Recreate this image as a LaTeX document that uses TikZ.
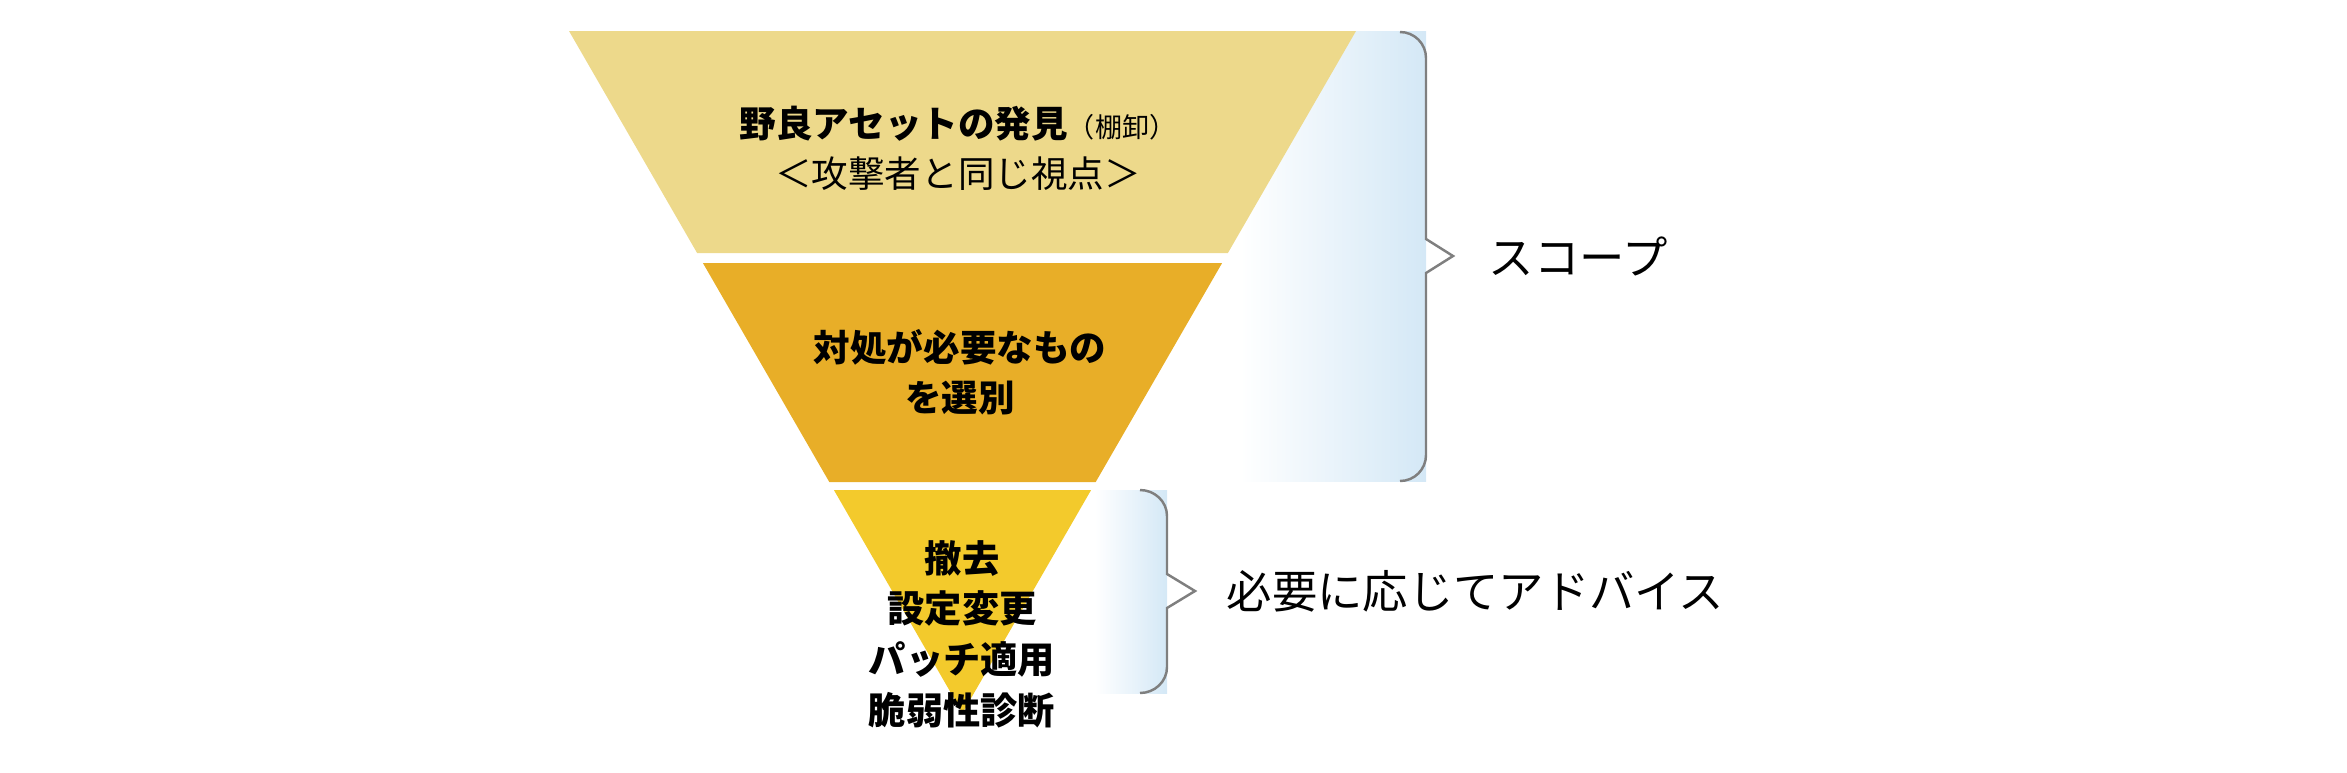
\documentclass[tikz,border=0pt]{standalone}
\usepackage{fontspec}
\setmainfont{Noto Sans CJK JP}
\usetikzlibrary{positioning}
\definecolor{bandone}{HTML}{EDD98B}
\definecolor{bandtwo}{HTML}{E8AE28}
\definecolor{bandthree}{HTML}{F3CA2C}
\definecolor{shadeblue}{HTML}{D4E8F6}
\definecolor{bracegray}{HTML}{7F7F7F}
\tikzstyle{bandtext} = [align=center, inner sep=0pt,
font=\bfseries\fontsize{10.4}{14.2}\selectfont]
\tikzstyle{sidelabel} = [inner sep=0pt, font=\fontsize{12.9}{15}\selectfont]
\tikzstyle{brace} = [draw=bracegray, line width=0.7pt]
\tikzstyle{glow} = [left color=white, right color=shadeblue]

\begin{document}
\begin{tikzpicture}[x=0.1mm, y=-0.1mm]
            \useasboundingbox (0,0) rectangle (2347,772);
            % Shading behind the funnel
            \fill[glow] (1240,31) rectangle (1426,481);
            \fill[glow] (1095,490) rectangle (1167,693);
            % Funnel
            \fill[bandone] (569,31) -- (1356,31) -- (1227.9,253) -- (697.1,253) -- cycle;
            \fill[bandtwo] (702.9,263) -- (1222.1,263) -- (1095.7,482) -- (829.3,482) -- cycle;
            \fill[bandthree] (833.9,490) -- (1091.1,490) -- (962.5,713) -- cycle;
            % Band texts
            \node[bandtext] (discover) at (958,148) {野良アセットの発見{\mdseries\fontsize{7.7}{14.2}\selectfont（棚卸）}\\
            {\mdseries ＜攻撃者と同じ視点＞}};
            \node[bandtext] (select) at (960,372) {対処が必要なもの\\を選別};
            \node[bandtext, font=\bfseries\fontsize{10.6}{14.4}\selectfont] (remedy) at (962,634)
            {撤去\\設定変更\\パッチ適用\\脆弱性診断};
            % Braces
            \coordinate (scopetip) at (1453,256);
            \coordinate (advicetip) at (1195,591);
            \draw[brace] (1400,32) to[out=0,in=90] (1426,58) -- (1426,239) -- (scopetip)
            -- (1426,273) -- (1426,455) to[out=-90,in=0] (1400,481);
            \draw[brace] (1140,490) to[out=0,in=90] (1167,516) -- (1167,574) -- (advicetip)
            -- (1167,608) -- (1167,667) to[out=-90,in=0] (1140,693);
            % Labels
            \node[sidelabel, right=3.5mm of scopetip] (scope) {スコープ};
            \node[sidelabel, right=3.1mm of advicetip] (advice) {必要に応じてアドバイス};
        \end{tikzpicture}
\end{document}
